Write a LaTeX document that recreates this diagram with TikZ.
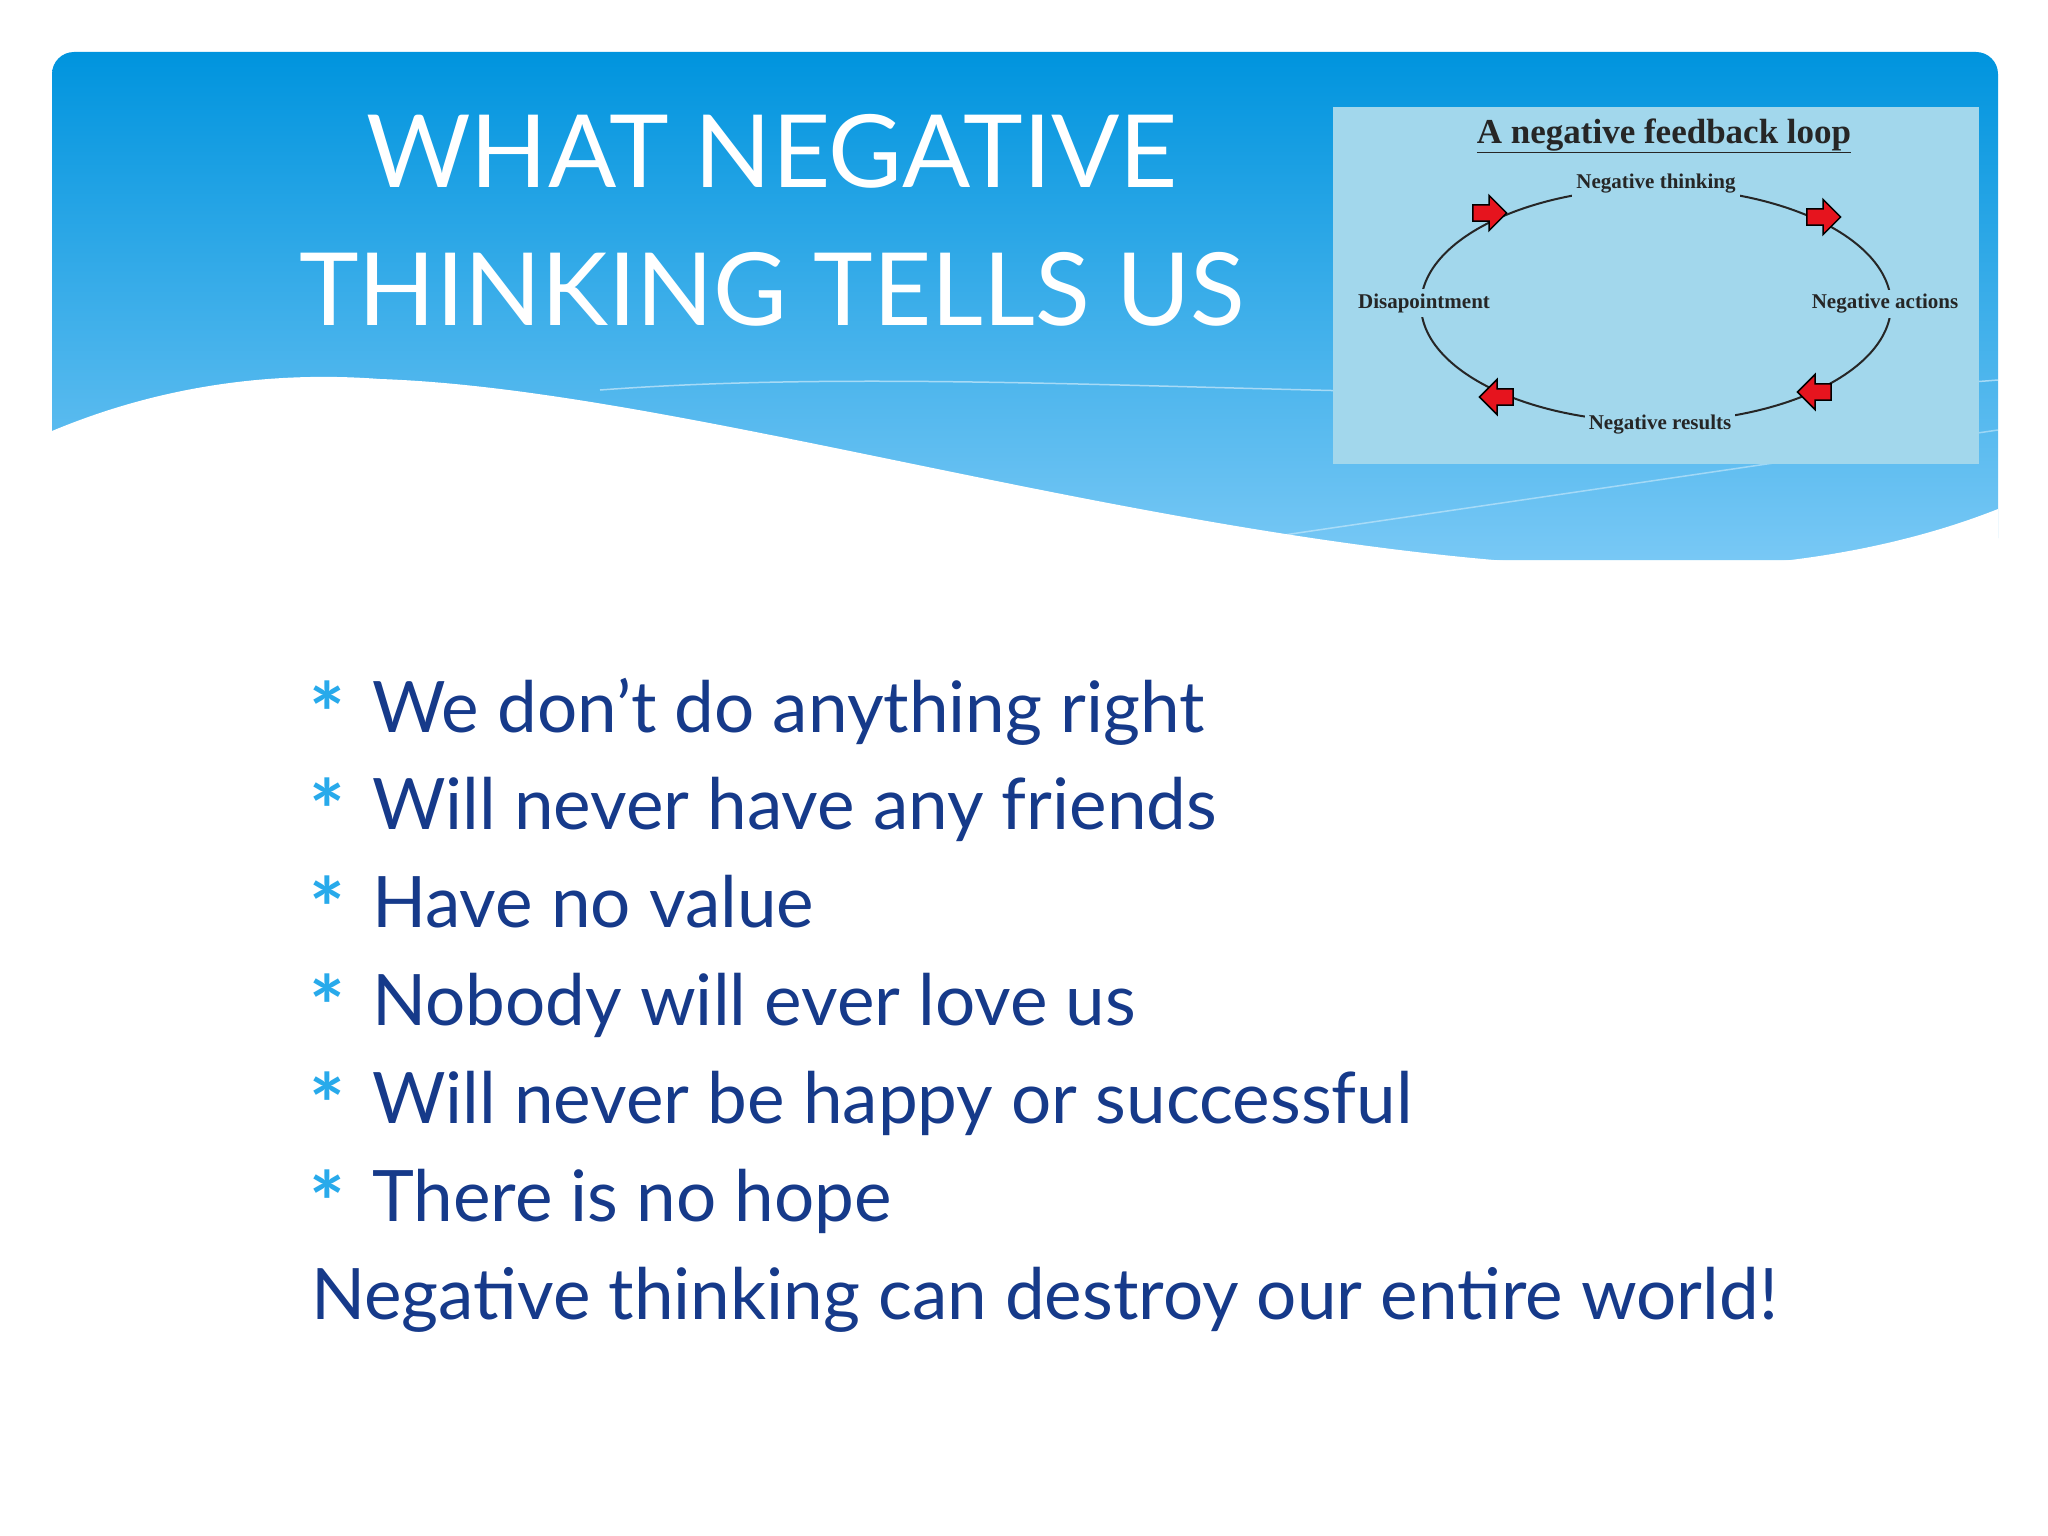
\documentclass[tikz,border=0pt]{standalone}
\usepackage{fontspec}
\setmainfont{Lato}
\newfontfamily\serifb{Liberation Serif}
\definecolor{bandtop}{RGB}{0,148,222}
\definecolor{bandbot}{RGB}{120,200,245}
\definecolor{insetbg}{RGB}{162,215,236}
\definecolor{txtblue}{RGB}{22,58,138}
\definecolor{bullblue}{RGB}{40,170,235}
\definecolor{arrred}{RGB}{230,20,30}
\begin{document}
\begin{tikzpicture}[x=1pt,y=-1pt,
  bullet/.style={anchor=mid west,font=\fontsize{71}{75}\selectfont,text=txtblue,inner sep=0},
  star/.style={anchor=mid,font=\bfseries\fontsize{84}{84}\selectfont,text=bullblue,inner sep=0},
  lab/.style={font=\serifb\bfseries\fontsize{21}{22}\selectfont,text=black!85,fill=insetbg,inner sep=4pt},
  rarr/.style={fill=arrred,draw=black,line width=1.5pt}]
\useasboundingbox (0,0) rectangle (2048,1536);
\fill[white] (0,0) rectangle (2048,1536);
% banner
\shade[top color=bandtop,bottom color=bandbot,rounded corners=22pt]
  (52,52) rectangle (1998,560);
\fill[white] (52,431) .. controls (150,390) and (260,370) .. (380,379)
  .. controls (700,390) and (1200,560) .. (1640,568)
  .. controls (1800,570) and (1920,540) .. (1998,509) -- (1998,1536) -- (52,1536) -- cycle;
\draw[white,opacity=0.5,line width=1.5pt] (600,390) .. controls (1000,360) and (1500,420) .. (1998,380);
\draw[white,opacity=0.4,line width=1.5pt] (1250,540) -- (1998,430);
\node[text=white,font=\fontsize{101}{110}\selectfont,anchor=mid] (t1) at (772,185) {WHAT NEGATIVE};
\node[text=white,font=\fontsize{101}{110}\selectfont,anchor=mid] (t2) at (772,323) {THINKING TELLS US};
% inset
\fill[insetbg] (1333,107) rectangle (1979,464);
\node[font=\serifb\bfseries\fontsize{35}{36}\selectfont,text=black!85,inner sep=0] (it) at (1664,136) {\underline{A negative feedback loop}};
\draw[black!85,line width=2pt] (1656,305) ellipse [x radius=235,y radius=117];
\node[lab] (nt) at (1656,184) {Negative thinking};
\node[lab] (dp) at (1424,303) {Disapointment};
\node[lab] (na) at (1885,304) {Negative actions};
\node[lab] (nr) at (1660,425) {Negative results};
\foreach \n/\px/\py/\d in {a1/1489/213/1,a2/1823/217/1,a3/1815/392/-1,a4/1497/397/-1}{
  \begin{scope}[shift={(\px,\py)},xscale=\d,scale=1.35]
  \draw[rarr] (-12,-6) -- (0,-6) -- (0,-13) -- (13,0) -- (0,13) -- (0,6) -- (-12,6) -- cycle;
  \end{scope}}
% bullets
\foreach \y/\t in {730/We don’t do anything right,827/Will never have any friends,925/Have no value,1023/Nobody will ever love us,1121/Will never be happy or successful,1219/There is no hope}{
  \node[star] at (327,\y+12) {*};
  \node[bullet] at (372,\y) {\t};}
\node[bullet] (last) at (311,1317) {Negative thinking can destroy our entire world!};
\end{tikzpicture}
\end{document}
